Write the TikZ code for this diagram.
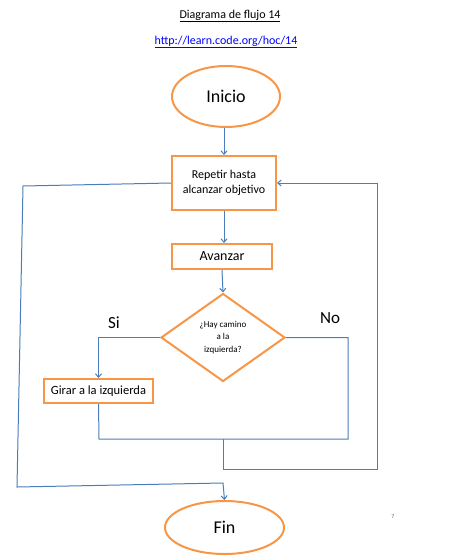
\documentclass[tikz,border=0pt]{standalone}
\usepackage{fontspec}
\setmainfont{Carlito}
\usetikzlibrary{arrows.meta,shapes.geometric}
\definecolor{naranja}{HTML}{F79646}
\definecolor{azul}{HTML}{4A7EBB}
\definecolor{enlace}{HTML}{0000FF}

\begin{document}
\begin{tikzpicture}[x=1pt, y=-1pt,
  caja/.style={draw=naranja, line width=2pt, rectangle, inner sep=0pt, align=center},
  ovalo/.style={draw=naranja, line width=2pt, ellipse, inner sep=0pt},
  rombo/.style={draw=naranja, line width=2pt, diamond, inner sep=0pt, align=center},
  linea/.style={draw=azul, line width=1pt},
  flecha/.style={linea, -{Straight Barb[length=3.5pt, width=6pt]}}]
\useasboundingbox (0,0) rectangle (452,559);
\node[font=\fontsize{12}{14}\selectfont] (titulo) at (230,16) {\underline{Diagrama de flujo 14}};
\node[text=enlace, font=\fontsize{12}{14}\selectfont] (url) at (226,42) {\underline{http://learn.code.org/hoc/14}};
\node[ovalo, minimum width=108, minimum height=61, font=\fontsize{18}{20}\selectfont] (inicio) at (226,96.5) {Inicio};
\node[caja, minimum width=104, minimum height=54, font=\fontsize{12}{15}\selectfont] (repetir) at (224,183) {Repetir hasta\\alcanzar objetivo};
\node[caja, minimum width=100, minimum height=25, font=\fontsize{14}{16}\selectfont] (avanzar) at (222,256.5) {Avanzar};
\node[rombo, minimum width=124, minimum height=88, font=\fontsize{9}{12.5}\selectfont] (pregunta) at (223,337.5) {¿Hay camino\\a la\\izquierda?};
\node[caja, minimum width=109, minimum height=24, font=\fontsize{12.5}{14}\selectfont] (girar) at (98.5,391) {Girar a la izquierda};
\node[ovalo, minimum width=119, minimum height=53, font=\fontsize{18}{20}\selectfont] (fin) at (224.5,527.5) {Fin};
\node[font=\fontsize{17}{19}\selectfont] (si) at (114,323) {Si};
\node[font=\fontsize{17}{19}\selectfont] (no) at (330,318) {No};
\node[text=black!60, font=\fontsize{6}{7}\selectfont] (pagina) at (393,517) {7};
\coordinate (unionD) at (348,439);
\coordinate (unionI) at (99,439);
\coordinate (bajada) at (223,439);
\coordinate (esquinaA) at (223,469);
\coordinate (esquinaB) at (377,469);
\coordinate (salidaA) at (23,186);
\coordinate (salidaB) at (17,487);
\coordinate (salidaC) at (223,483);
\draw[flecha] (repetir.north |- inicio.south) -- (repetir.north);
\draw[flecha] (repetir.south) -- (repetir.south |- avanzar.north);
\draw[flecha] (avanzar.south) -- (pregunta.north);
\draw[flecha] (pregunta.west) -| (girar.north);
\draw[linea] (pregunta.east) -| (unionD) -- (unionI) -- (girar.south);
\draw[flecha] (bajada) -- (esquinaA) -- (esquinaB) |- (repetir.east);
\draw[flecha] (repetir.west) -- (salidaA) -- (salidaB) -- (salidaC) -- (fin.north);
\end{tikzpicture}
\end{document}
